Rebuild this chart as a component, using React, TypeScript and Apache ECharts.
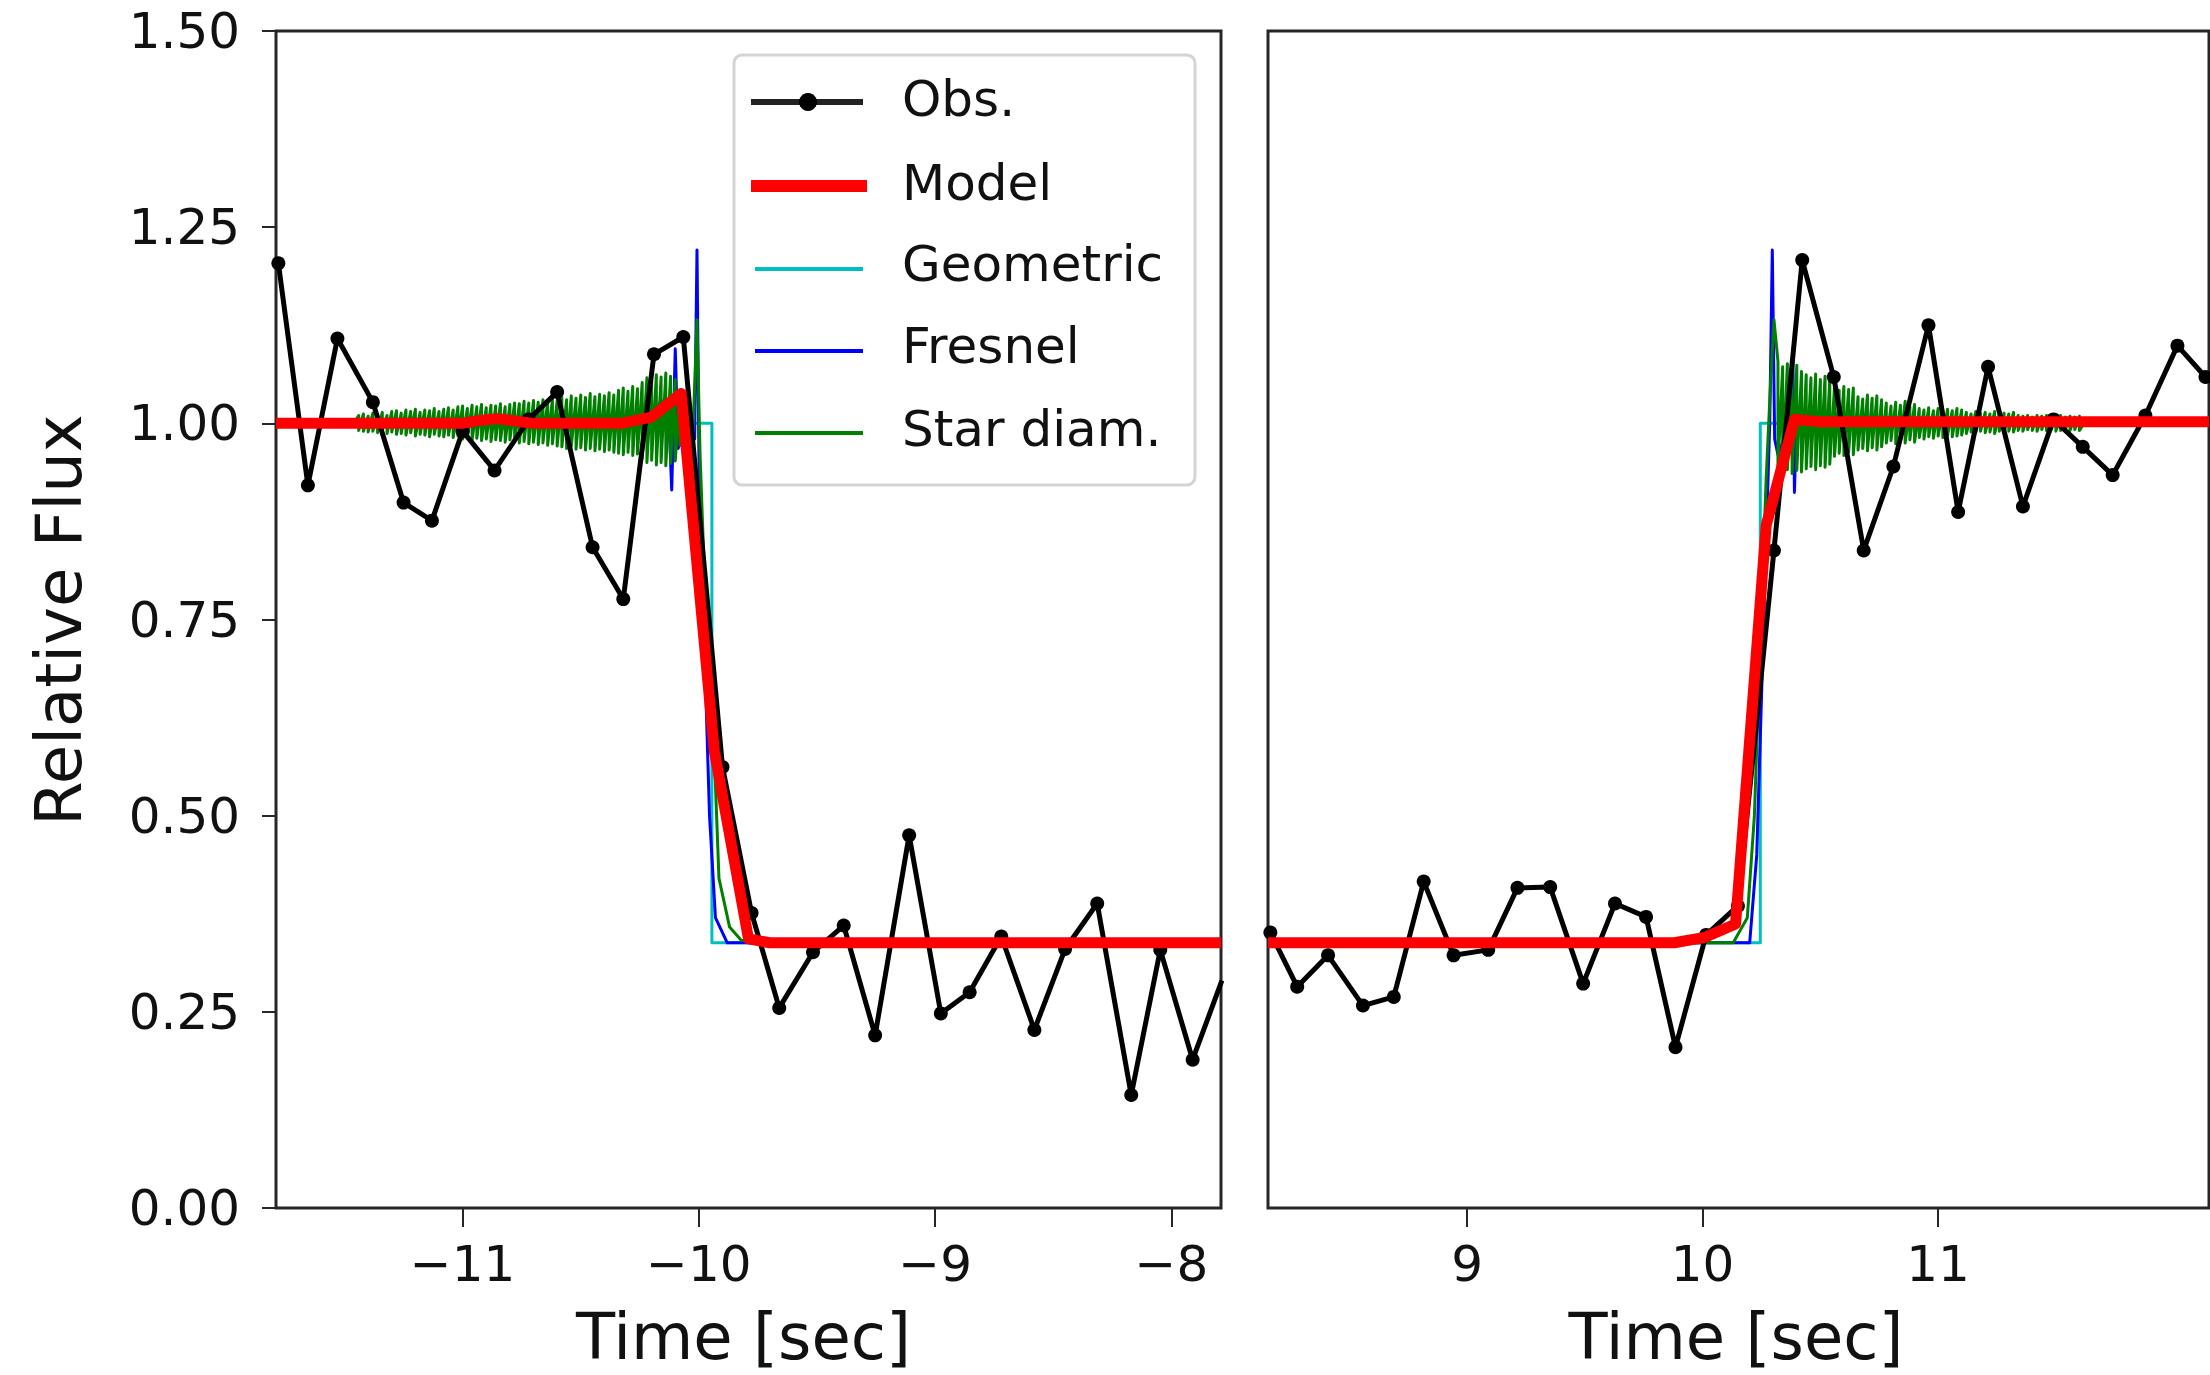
import React, { useEffect, useRef } from 'react';
import * as echarts from 'echarts';

// ---------- data ----------
const leftRange = [-11.79, -7.79];
const rightRange = [8.155, 12.15];
const leftTicks = [-11, -10, -9, -8];
const rightTicks = [9, 10, 11];
const fluxMin = 0;
const fluxMax = 1.5;
const fluxStep = 0.25;

const obsLeftT = [-11.78, -11.655, -11.53, -11.38, -11.25, -11.13, -11.0, -10.865, -10.72, -10.6, -10.45, -10.32, -10.19, -10.066, -9.9, -9.777, -9.66, -9.517, -9.387, -9.254, -9.11, -8.976, -8.854, -8.72, -8.58, -8.45, -8.314, -8.17, -8.047, -7.91, -7.786];
const obsLeftF = [1.204, 0.921, 1.108, 1.027, 0.899, 0.876, 0.99, 0.94, 1.005, 1.04, 0.842, 0.776, 1.088, 1.11, 0.562, 0.376, 0.255, 0.326, 0.36, 0.22, 0.475, 0.248, 0.275, 0.346, 0.227, 0.33, 0.388, 0.144, 0.329, 0.189, 0.29];

const obsRightT = [8.165, 8.279, 8.41, 8.558, 8.689, 8.816, 8.943, 9.09, 9.214, 9.353, 9.493, 9.628, 9.76, 9.885, 10.015, 10.15, 10.303, 10.423, 10.557, 10.684, 10.81, 10.959, 11.085, 11.212, 11.36, 11.49, 11.614, 11.741, 11.88, 12.016, 12.135];
const obsRightF = [0.351, 0.282, 0.322, 0.258, 0.269, 0.416, 0.322, 0.329, 0.408, 0.409, 0.286, 0.388, 0.371, 0.205, 0.348, 0.385, 0.838, 1.208, 1.059, 0.838, 0.945, 1.125, 0.887, 1.072, 0.894, 1.005, 0.97, 0.934, 1.01, 1.099, 1.059];

const modelLeft = [[-11.79, 1.0], [-11.0, 1.0], [-10.92, 1.004], [-10.85, 1.006], [-10.78, 1.003], [-10.7, 1.0], [-10.33, 1.0], [-10.2, 1.008], [-10.075, 1.038], [-9.935, 0.583], [-9.79, 0.343], [-9.7, 0.338], [-7.79, 0.338]];
const modelRight = [[8.155, 0.338], [9.88, 0.338], [10.01, 0.345], [10.14, 0.362], [10.27, 0.87], [10.39, 1.005], [10.5, 1.002], [12.15, 1.002]];

const geomLeft = [[-11.79, 1.0], [-9.945, 1.0], [-9.945, 0.338], [-7.79, 0.338]];
const geomRight = [[8.155, 0.338], [10.245, 0.338], [10.245, 1.0], [12.15, 1.0]];

const fresnelLeft = [[-11.79, 1.0], [-10.2, 1.0], [-10.16, 1.03], [-10.125, 0.99], [-10.115, 0.915], [-10.1, 1.095], [-10.088, 0.968], [-10.05, 1.0], [-10.018, 0.98], [-10.008, 1.221], [-9.998, 0.9], [-9.975, 0.7], [-9.955, 0.5], [-9.93, 0.37], [-9.88, 0.338], [-7.79, 0.338]];
const fresnelRight = [[8.155, 0.338], [10.2, 0.338], [10.23, 0.45], [10.26, 0.75], [10.285, 1.0], [10.296, 1.221], [10.306, 0.98], [10.32, 0.96], [10.37, 1.0], [10.383, 1.094], [10.39, 0.912], [10.4, 1.02], [10.45, 0.99], [10.5, 1.0], [12.15, 1.0]];

// star-diameter curve: head, oscillation strokes [time, high, low], tail
const starLeftHead = [[-11.79, 1.0], [-11.46, 1.0]];
const starLeftStrokes = [
  [-11.44, 1.010, 0.991], [-11.42, 1.012, 0.990], [-11.40, 1.009, 0.989], [-11.38, 1.013, 0.990], [-11.36, 1.011, 0.988], [-11.34, 1.014, 0.991], [-11.32, 1.010, 0.987], [-11.30, 1.015, 0.989],
  [-11.28, 1.016, 0.986], [-11.26, 1.013, 0.987], [-11.24, 1.017, 0.985], [-11.22, 1.015, 0.988], [-11.20, 1.018, 0.984], [-11.18, 1.014, 0.986], [-11.16, 1.017, 0.985], [-11.14, 1.016, 0.983], [-11.12, 1.019, 0.986], [-11.10, 1.015, 0.984], [-11.08, 1.018, 0.983], [-11.06, 1.020, 0.985], [-11.04, 1.017, 0.982], [-11.02, 1.021, 0.984],
  [-11.00, 1.022, 0.980], [-10.98, 1.019, 0.982], [-10.96, 1.023, 0.979], [-10.94, 1.021, 0.981], [-10.92, 1.024, 0.978], [-10.90, 1.020, 0.980], [-10.88, 1.023, 0.977], [-10.86, 1.022, 0.979], [-10.84, 1.025, 0.978], [-10.82, 1.021, 0.976], [-10.80, 1.024, 0.979], [-10.78, 1.026, 0.977],
  [-10.76, 1.025, 0.975], [-10.74, 1.028, 0.977], [-10.72, 1.026, 0.974], [-10.70, 1.029, 0.976], [-10.68, 1.027, 0.973], [-10.66, 1.030, 0.975], [-10.64, 1.028, 0.972], [-10.62, 1.031, 0.974], [-10.60, 1.029, 0.971],
  [-10.58, 1.033, 0.970], [-10.56, 1.030, 0.968], [-10.54, 1.035, 0.971], [-10.52, 1.032, 0.967], [-10.50, 1.036, 0.969], [-10.48, 1.033, 0.966], [-10.46, 1.038, 0.968], [-10.44, 1.034, 0.965], [-10.42, 1.037, 0.967], [-10.40, 1.035, 0.964], [-10.38, 1.039, 0.966], [-10.36, 1.036, 0.963],
  [-10.34, 1.042, 0.962], [-10.32, 1.045, 0.960], [-10.30, 1.041, 0.963], [-10.28, 1.047, 0.959], [-10.26, 1.044, 0.961],
  [-10.24, 1.052, 0.955], [-10.22, 1.058, 0.950], [-10.20, 1.055, 0.953], [-10.18, 1.062, 0.947], [-10.16, 1.059, 0.950], [-10.14, 1.064, 0.946], [-10.12, 1.060, 0.949], [-10.10, 1.056, 0.952],
  [-10.08, 1.042, 0.972], [-10.06, 1.034, 0.978], [-10.04, 1.025, 0.985], [-10.025, 1.010, 0.990],
];
const starLeftTail = [[-10.008, 1.132], [-9.995, 0.96], [-9.97, 0.75], [-9.935, 0.58], [-9.915, 0.42], [-9.87, 0.358], [-9.82, 0.341], [-7.79, 0.338]];

const starRightHead = [[8.155, 0.338], [10.13, 0.338], [10.19, 0.37], [10.22, 0.5], [10.245, 0.72], [10.27, 0.93], [10.29, 1.06], [10.303, 1.132]];
const starRightStrokes = [
  [10.32, 1.079, 0.943], [10.34, 1.072, 0.938], [10.36, 1.076, 0.941], [10.38, 1.070, 0.936], [10.40, 1.074, 0.940], [10.42, 1.066, 0.938],
  [10.44, 1.062, 0.942], [10.46, 1.058, 0.945], [10.48, 1.063, 0.941], [10.50, 1.056, 0.946], [10.52, 1.060, 0.944], [10.54, 1.055, 0.948],
  [10.56, 1.046, 0.958], [10.58, 1.042, 0.962], [10.60, 1.047, 0.959], [10.62, 1.043, 0.963], [10.64, 1.045, 0.960],
  [10.66, 1.034, 0.966], [10.68, 1.031, 0.968], [10.70, 1.036, 0.965], [10.72, 1.032, 0.969], [10.74, 1.035, 0.966], [10.76, 1.030, 0.970],
  [10.78, 1.026, 0.975], [10.80, 1.022, 0.978], [10.82, 1.027, 0.974], [10.84, 1.023, 0.977], [10.86, 1.028, 0.975], [10.88, 1.021, 0.979], [10.90, 1.024, 0.976],
  [10.92, 1.019, 0.982], [10.94, 1.017, 0.980], [10.96, 1.020, 0.983], [10.98, 1.016, 0.981], [11.00, 1.019, 0.984], [11.02, 1.017, 0.982], [11.04, 1.018, 0.985], [11.06, 1.016, 0.983], [11.08, 1.019, 0.984], [11.10, 1.017, 0.985],
  [11.12, 1.014, 0.987], [11.14, 1.012, 0.989], [11.16, 1.015, 0.988], [11.18, 1.013, 0.990], [11.20, 1.014, 0.988], [11.22, 1.012, 0.989], [11.24, 1.015, 0.987], [11.26, 1.011, 0.990], [11.28, 1.013, 0.988], [11.30, 1.012, 0.990], [11.32, 1.014, 0.989],
  [11.34, 1.010, 0.991], [11.36, 1.009, 0.990], [11.38, 1.010, 0.992], [11.40, 1.008, 0.991], [11.42, 1.010, 0.990], [11.44, 1.009, 0.992], [11.46, 1.010, 0.991], [11.48, 1.008, 0.992], [11.50, 1.009, 0.990], [11.52, 1.010, 0.991], [11.54, 1.008, 0.992], [11.56, 1.009, 0.991], [11.58, 1.008, 0.992], [11.60, 1.009, 0.991],
];
const starRightTail = [[11.62, 1.0], [12.15, 1.0]];

const legendNames = ['Obs.', 'Model', 'Geometric', 'Fresnel', 'Star diam.'];
const xTitle = 'Time [sec]';
const yTitle = 'Relative Flux';

// ---------- styles ----------
const FONT = 'DejaVu Sans';
const C_OBS = '#000000';
const C_MODEL = '#ff0000';
const C_GEOM = '#00bfbf';
const C_FRES = '#0000ff';
const C_STAR = '#008000';
const C_AXIS = '#262626';

function strokesToLine(strokes: number[][]) {
  const out: number[][] = [];
  strokes.forEach(([t, hi, lo]) => {
    out.push([t, hi]);
    out.push([t, lo]);
  });
  return out;
}

function lineSeries(name: string, data: number[][], idx: number, color: string, width: number, z: number) {
  return {
    name,
    type: 'line',
    xAxisIndex: idx,
    yAxisIndex: idx,
    data,
    showSymbol: false,
    symbol: 'none',
    silent: true,
    clip: true,
    z,
    lineStyle: { color, width, join: 'round' },
    emphasis: { disabled: true },
  };
}

function obsSeries(t: number[], f: number[], idx: number) {
  return {
    name: 'Obs.',
    type: 'line',
    xAxisIndex: idx,
    yAxisIndex: idx,
    data: t.map((v, i) => [v, f[i]]),
    showSymbol: true,
    symbol: 'circle',
    symbolSize: 14,
    silent: true,
    clip: true,
    z: 5,
    itemStyle: { color: C_OBS },
    lineStyle: { color: C_OBS, width: 5, join: 'round' },
    emphasis: { disabled: true },
  };
}

const minusFmt = (v: number) => String(v).replace('-', '\u2212');

function xAxisDef(idx: number, range: number[], ticks: number[]) {
  return {
    type: 'value',
    gridIndex: idx,
    min: range[0],
    max: range[1],
    axisLine: { show: false, onZero: false },
    splitLine: { show: false },
    axisTick: { show: true, customValues: ticks, length: 19, lineStyle: { color: C_AXIS, width: 2 } },
    axisLabel: {
      show: true,
      customValues: ticks,
      margin: 31,
      fontSize: 50,
      fontFamily: FONT,
      color: '#111111',
      formatter: minusFmt,
    },
  };
}

export default function App() {
  const ref = useRef<HTMLDivElement>(null);

  useEffect(() => {
    if (!ref.current) return;
    const chart = echarts.init(ref.current, undefined, { renderer: 'svg' });

    const legendY = [102, 186, 269, 351, 433];
    const textY = [99, 182.5, 264, 346, 429];
    const legendColors = ['#222222', C_MODEL, C_GEOM, C_FRES, C_STAR];
    const legendWidths = [6, 12, 4, 4, 4];

    const legendEls: any[] = [
      {
        type: 'rect',
        z: 100,
        shape: { x: 734, y: 55, width: 461, height: 430, r: 8 },
        style: { fill: '#ffffff', stroke: '#d4d4d4', lineWidth: 3 },
      },
    ];
    legendNames.forEach((n, i) => {
      legendEls.push({
        type: 'line',
        z: 101,
        shape: { x1: i < 2 ? 751 : 755, y1: legendY[i], x2: i === 1 ? 867 : 863, y2: legendY[i] },
        style: { stroke: legendColors[i], lineWidth: legendWidths[i] },
      });
      legendEls.push({
        type: 'text',
        z: 101,
        x: 902,
        y: textY[i],
        style: {
          text: n,
          fontSize: 50,
          fontFamily: FONT,
          fill: '#111111',
          align: 'left',
          verticalAlign: 'middle',
          textAlign: 'left',
          textVerticalAlign: 'middle',
        },
      });
    });
    legendEls.push({
      type: 'circle',
      z: 102,
      shape: { cx: 808, cy: legendY[0], r: 9 },
      style: { fill: '#000000' },
    });

    const titleEls: any[] = [
      {
        type: 'text',
        x: 59,
        y: 620,
        rotation: Math.PI / 2,
        style: {
          text: yTitle, fontSize: 64, fontFamily: FONT, fill: '#111111',
          align: 'center', verticalAlign: 'middle', textAlign: 'center', textVerticalAlign: 'middle',
        },
      },
      {
        type: 'text',
        x: 743.5,
        y: 1337,
        style: {
          text: xTitle, fontSize: 64, fontFamily: FONT, fill: '#111111',
          align: 'center', verticalAlign: 'middle', textAlign: 'center', textVerticalAlign: 'middle',
        },
      },
      {
        type: 'text',
        x: 1736,
        y: 1337,
        style: {
          text: xTitle, fontSize: 64, fontFamily: FONT, fill: '#111111',
          align: 'center', verticalAlign: 'middle', textAlign: 'center', textVerticalAlign: 'middle',
        },
      },
    ];

    const gridBase = {
      top: 31,
      height: 1177,
      show: true,
      borderColor: C_AXIS,
      borderWidth: 3,
      backgroundColor: 'rgba(0,0,0,0)',
      containLabel: false,
    };

    const option: any = {
      animation: false,
      backgroundColor: '#ffffff',
      grid: [
        { ...gridBase, left: 276, width: 945 },
        { ...gridBase, left: 1268, width: 941 },
      ],
      xAxis: [xAxisDef(0, leftRange, leftTicks), xAxisDef(1, rightRange, rightTicks)],
      yAxis: [
        {
          type: 'value',
          gridIndex: 0,
          min: fluxMin,
          max: fluxMax,
          interval: fluxStep,
          axisLine: { show: false, onZero: false },
          splitLine: { show: false },
          axisTick: { show: true, length: 14, lineStyle: { color: C_AXIS, width: 2 } },
          axisLabel: {
            margin: 36,
            fontSize: 50,
            fontFamily: FONT,
            color: '#111111',
            formatter: (v: number) => v.toFixed(2),
          },
        },
        {
          type: 'value',
          gridIndex: 1,
          min: fluxMin,
          max: fluxMax,
          interval: fluxStep,
          axisLine: { show: false, onZero: false },
          splitLine: { show: false },
          axisTick: { show: false },
          axisLabel: { show: false },
        },
      ],
      series: [
        lineSeries('Geometric', geomLeft, 0, C_GEOM, 3, 2),
        lineSeries('Fresnel', fresnelLeft, 0, C_FRES, 3, 3),
        lineSeries('Star diam.', [...starLeftHead, ...strokesToLine(starLeftStrokes), ...starLeftTail], 0, C_STAR, 3, 4),
        obsSeries(obsLeftT, obsLeftF, 0),
        lineSeries('Model', modelLeft, 0, C_MODEL, 11, 6),
        lineSeries('Geometric', geomRight, 1, C_GEOM, 3, 2),
        lineSeries('Fresnel', fresnelRight, 1, C_FRES, 3, 3),
        lineSeries('Star diam.', [...starRightHead, ...strokesToLine(starRightStrokes), ...starRightTail], 1, C_STAR, 3, 4),
        obsSeries(obsRightT, obsRightF, 1),
        lineSeries('Model', modelRight, 1, C_MODEL, 11, 6),
      ],
      graphic: [...titleEls, ...legendEls],
    };

    chart.setOption(option);
    return () => chart.dispose();
  }, []);

  return (
    <div
      ref={ref}
      style={{ position: 'absolute', left: 0, top: 0, width: 2210, height: 1375, background: '#fff' }}
    />
  );
}
